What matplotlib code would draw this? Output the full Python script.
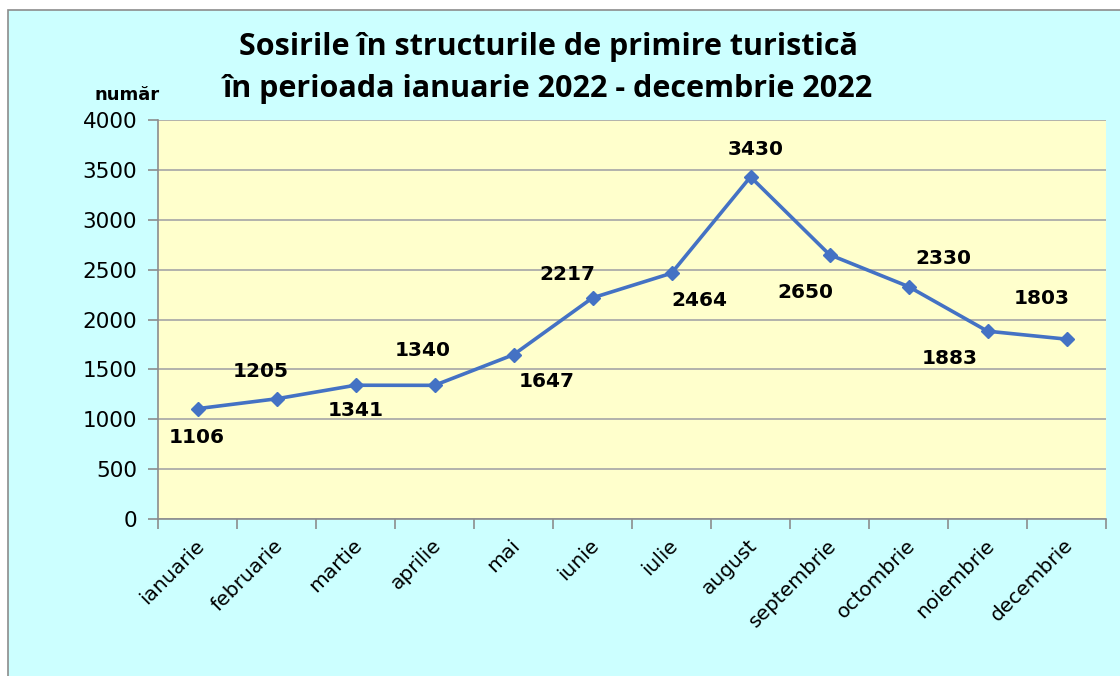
import matplotlib
matplotlib.use("Agg")
import matplotlib.pyplot as plt
from matplotlib.patches import Rectangle
import matplotlib.transforms as mtransforms

months = ["ianuarie", "februarie", "martie", "aprilie", "mai", "iunie",
          "iulie", "august", "septembrie", "octombrie", "noiembrie", "decembrie"]
values = [1106, 1205, 1341, 1340, 1647, 2217, 2464, 3430, 2650, 2330, 1883, 1803]
yticks = [0, 500, 1000, 1500, 2000, 2500, 3000, 3500, 4000]
title = "Sosirile în structurile de primire turistică\nîn perioada ianuarie 2022 - decembrie 2022"
ylabel = "număr"

# label offsets in pixels (dx, dy) relative to the marker
label_offsets = [(-1, -29), (-16, 27), (0, -25), (-12, 35), (33, -27), (-25, 23),
                 (28, -27), (5, 27), (-24, -38), (35, 28), (-38, -27), (-25, 41)]

W, H, DPI = 1120, 676, 100
fig = plt.figure(figsize=(W / DPI, H / DPI), dpi=DPI, facecolor="white")

# background box
fig.patches.append(Rectangle((8 / W, -0.01), 1.2, (H - 10) / H + 0.01,
                             transform=fig.transFigure, facecolor="#CCFFFF",
                             edgecolor="#8C8C8C", linewidth=1.2, zorder=-10))

ax = fig.add_axes([158 / W, 1 - 519 / H, (1106 - 158) / W, (519 - 120) / H])
ax.set_facecolor("#FFFFCC")

x = list(range(len(months)))
ax.plot(x, values, color="#4472C4", linewidth=2.6, marker="D", markersize=7,
        markerfacecolor="#4472C4", markeredgecolor="#4472C4", zorder=3)

for xi, v, (dx, dy) in zip(x, values, label_offsets):
    ax.annotate(f"{v}", (xi, v), xytext=(dx * 72 / DPI, dy * 72 / DPI),
                textcoords="offset points", ha="center", va="center",
                fontsize=14.5, fontweight="bold", color="black",
                family="DejaVu Sans", zorder=4)

ax.set_xlim(-0.5, len(months) - 0.5)
ax.set_ylim(0, 4000)
ax.set_yticks(yticks)
ax.yaxis.grid(True, color="#A6A6A6", linewidth=1.2)
ax.set_axisbelow(True)

ax.set_xticks([i - 0.5 for i in range(len(months) + 1)])
ax.set_xticklabels([])
ax.set_xticks(x, minor=True)
ax.set_xticklabels(months, minor=True, rotation=45, ha="right",
                   rotation_mode="anchor", fontsize=14.5, family="DejaVu Sans")
ax.tick_params(axis="x", which="major", length=7, color="#8C8C8C", width=1.2, direction="out")
ax.tick_params(axis="x", which="minor", length=0, pad=12)
ax.tick_params(axis="y", length=7, color="#8C8C8C", width=1.2, labelsize=15.5, pad=8)

offset = mtransforms.ScaledTranslation(-3 / DPI, 0, fig.dpi_scale_trans)
for lab in ax.xaxis.get_minorticklabels():
    lab.set_transform(lab.get_transform() + offset)

for s in ["top", "right"]:
    ax.spines[s].set_visible(False)
for s in ["left", "bottom"]:
    ax.spines[s].set_color("#8C8C8C")
    ax.spines[s].set_linewidth(1.2)

fig.text(548 / W, 1 - 68 / H, title, ha="center", va="center", fontsize=22,
         fontweight="bold", family="Open Sans", linespacing=1.5)
fig.text(127 / W, 1 - 95 / H, ylabel, ha="center", va="center", fontsize=13,
         fontweight="bold", family="DejaVu Sans")

fig.savefig("out.png", dpi=DPI, facecolor="white")
